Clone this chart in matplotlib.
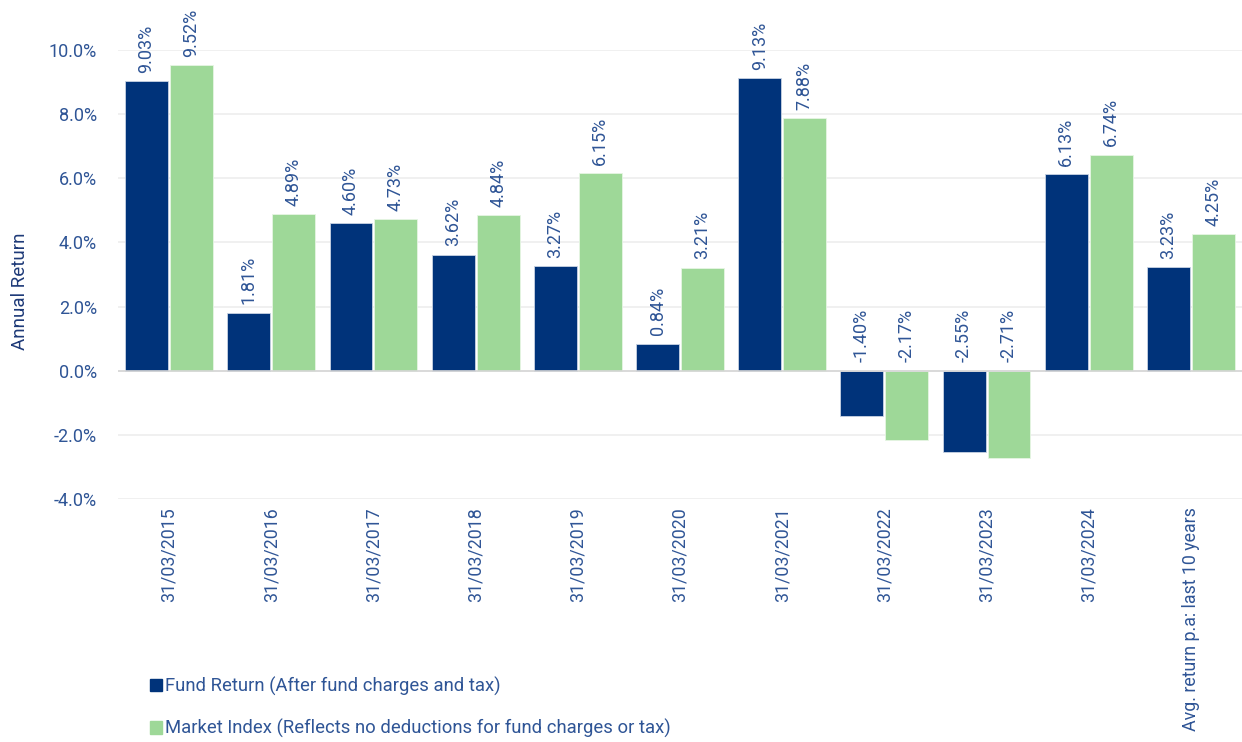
import numpy as np
import matplotlib.pyplot as plt
from matplotlib.patches import Patch

categories = ["31/03/2015", "31/03/2016", "31/03/2017", "31/03/2018", "31/03/2019",
              "31/03/2020", "31/03/2021", "31/03/2022", "31/03/2023", "31/03/2024",
              "Avg. return p.a: last 10 years"]
fund = [9.03, 1.81, 4.60, 3.62, 3.27, 0.84, 9.13, -1.40, -2.55, 6.13, 3.23]
market = [9.52, 4.89, 4.73, 4.84, 6.15, 3.21, 7.88, -2.17, -2.71, 6.74, 4.25]
yticks = [-4, -2, 0, 2, 4, 6, 8, 10]

navy = "#00337A"
green = "#9ED898"
txt = "#2F5596"

plt.rcParams['font.family'] = ['Roboto', 'DejaVu Sans']

fig = plt.figure(figsize=(12.42, 7.42), dpi=100)
ax = fig.add_axes([0.095, 0.3275, 0.905, 0.6051])

x = np.arange(len(categories))
w = 0.42
ax.bar(x - w / 2 - 0.01, fund, w, color=navy, edgecolor="#C9D3E3", linewidth=0.6, zorder=3)
ax.bar(x + w / 2 + 0.01, market, w, color=green, edgecolor="#E6F5E4", linewidth=0.6, zorder=3)

for i in range(len(categories)):
    for xv, v in ((x[i] - w / 2 - 0.01, fund[i]), (x[i] + w / 2 + 0.01, market[i])):
        ax.annotate(f"{v:.2f}%", (xv, max(v, 0)), xytext=(0, 6), textcoords="offset points",
                    rotation=90, ha="center", va="bottom", color=txt, fontsize=13,
                    annotation_clip=False)

ax.set_xlim(-0.5, len(categories) - 0.5)
ax.set_ylim(-4, 10)
ax.set_yticks(yticks)
ax.set_yticklabels([f"{t:.1f}%" for t in yticks], color=txt, fontsize=13)
ax.set_xticks(x)
ax.set_xticklabels(categories, rotation=90, color=txt, fontsize=12.8, va="top")
ax.tick_params(length=0, pad=6)
ax.tick_params(axis="y", pad=15)
ax.grid(axis="y", color="#EEEEEE", linewidth=1.2, zorder=0)
ax.axhline(0, color="#D6D6D6", linewidth=1.2, zorder=4)
for s in ax.spines.values():
    s.set_visible(False)
ax.set_ylabel("Annual Return", color="#1E3A78", fontsize=13.5)
ax.yaxis.set_label_coords(-0.079, 0.463)

handles = [Patch(color=navy), Patch(color=green)]
labels = ["Fund Return (After fund charges and tax)",
          "Market Index (Reflects no deductions for fund charges or tax)"]
fig.legend(handles, labels, loc="lower left", bbox_to_anchor=(0.11, -0.012), frameon=False,
           fontsize=13.3, labelcolor=txt, handlelength=0.7, handleheight=0.7,
           handletextpad=0.15, labelspacing=1.25, borderaxespad=0.3)

fig.savefig("out.png", dpi=100)
